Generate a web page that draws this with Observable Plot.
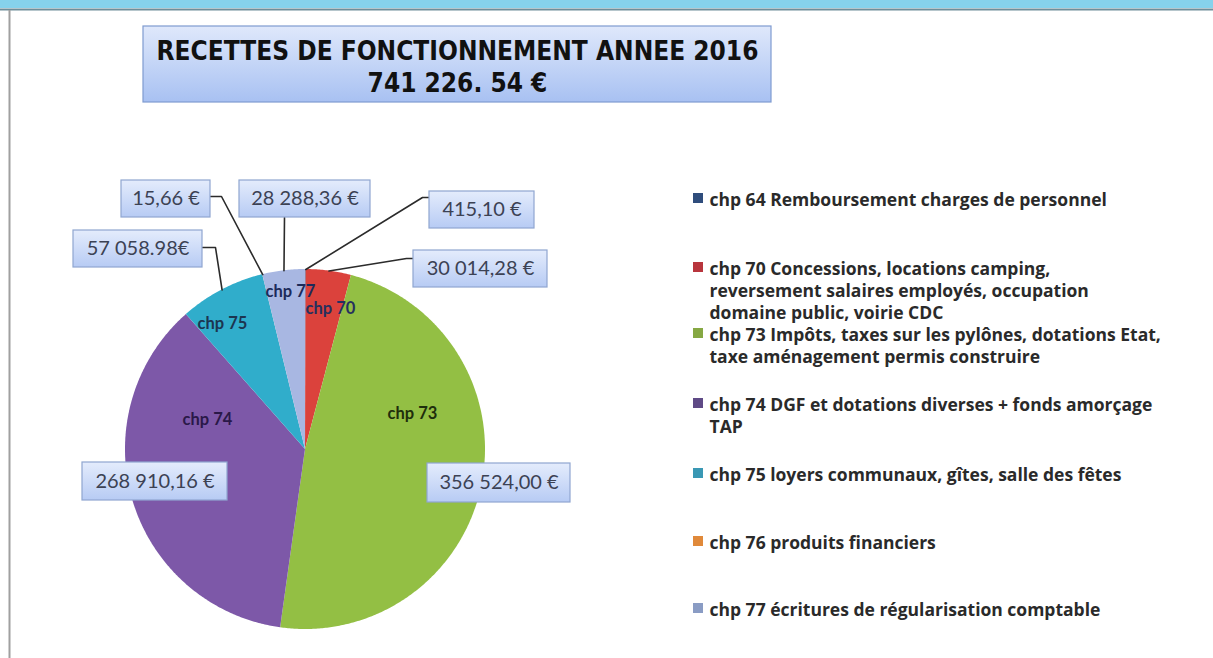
<!DOCTYPE html>
<html><head><meta charset="utf-8">
<script src="https://cdn.jsdelivr.net/npm/d3@7"></script>
<script src="https://cdn.jsdelivr.net/npm/@observablehq/plot@0.6"></script>
<style>body{margin:0;background:#fff;}</style>
</head><body><div id="chart"></div>
<script>
// ---------- data ----------
const titleLines = ["RECETTES DE FONCTIONNEMENT ANNEE 2016", "741 226. 54 €"];
const chapters = ["chp 64", "chp 70", "chp 73", "chp 74", "chp 75", "chp 76", "chp 77"];
const descriptions = [
  "chp 64 Remboursement charges de personnel",
  "chp 70 Concessions, locations camping,\nreversement salaires employés, occupation\ndomaine public, voirie CDC",
  "chp 73 Impôts, taxes sur les pylônes, dotations Etat,\ntaxe aménagement permis construire",
  "chp 74 DGF et dotations diverses + fonds amorçage\nTAP",
  "chp 75 loyers communaux, gîtes, salle des fêtes",
  "chp 76 produits financiers",
  "chp 77 écritures de régularisation comptable"
];
const values = [415.10, 30014.28, 356524.00, 268910.16, 57058.98, 15.66, 28288.36];
const valueLabels = ["415,10 €", "30 014,28 €", "356 524,00 €", "268 910,16 €", "57 058.98€", "15,66 €", "28 288,36 €"];
const sliceNames = ["", "chp 70", "chp 73", "chp 74", "chp 75", "", "chp 77"];

// ---------- styles / layout ----------
const sliceColors = ["#3b5e92", "#db423c", "#93bf44", "#7d58a8", "#30adcb", "#f0923e", "#a8b7e2"];
const legendColors = ["#2f4d7c", "#b8353d", "#86a843", "#5f4a86", "#3a98b4", "#e0893a", "#8a9cc4"];
const sliceTextColors = ["#1c2a5a", "#26305e", "#1f2e0c", "#2a1848", "#1c3550", "#333", "#1c2a5a"];
const W = 1213, H = 658;
const pieLayout = {cx: 305, cy: 449, r: 180};
// value-label boxes: [x1, y1, x2, y2], leader start, leader elbow (null = no leader)
const boxLayout = [
  {b: [429, 191, 534, 228], s: [429, 197], e: [422, 197]},
  {b: [413, 250, 547, 287], s: [413, 258], e: [406, 258]},
  {b: [427, 463, 570, 502], s: null, e: null},
  {b: [82, 462, 227, 500], s: null, e: null},
  {b: [73, 230, 202, 267], s: [202, 247], e: [215, 247]},
  {b: [121, 180, 210, 217], s: [210, 196], e: [221, 196]},
  {b: [239, 180, 370, 217], s: [284, 217], e: [284, 217]}
];
const sliceLabelPos = [null, [330, 308], [412, 413], [207, 419], [222, 323], null, [290, 291]];
const legendY = [198, 267, 333, 403, 473, 541, 608];
const legendSquareX = 693, legendTextX = 709;

// ---------- pie geometry from values ----------
const arcs = d3.pie().sort(null).value(d => d)(values);
const slicePts = [];
arcs.forEach((a, i) => {
  const {cx, cy, r} = pieLayout;
  const n = Math.max(2, Math.ceil((a.endAngle - a.startAngle) / (Math.PI / 360)));
  for (let k = 0; k <= n; k++) {
    const t = a.startAngle + (a.endAngle - a.startAngle) * k / n;
    slicePts.push({key: chapters[i], x: cx + r * Math.sin(t), y: cy - r * Math.cos(t), cx, cy});
  }
});

const leaderPts = [];
arcs.forEach((a, i) => {
  const L = boxLayout[i];
  if (!L.s) return;
  const {cx, cy, r} = pieLayout;
  const m = (a.startAngle + a.endAngle) / 2;
  leaderPts.push({k: i, x: L.s[0], y: L.s[1]});
  leaderPts.push({k: i, x: L.e[0], y: L.e[1]});
  leaderPts.push({k: i, x: cx + r * Math.sin(m), y: cy - r * Math.cos(m)});
});

const boxes = chapters.map((c, i) => {
  const [x1, y1, x2, y2] = boxLayout[i].b;
  return {x1, y1, x2, y2, xc: (x1 + x2) / 2, yc: (y1 + y2) / 2, label: valueLabels[i]};
});
const sliceLabels = chapters.map((c, i) => sliceLabelPos[i] ? {x: sliceLabelPos[i][0], y: sliceLabelPos[i][1], t: sliceNames[i], c: sliceTextColors[i]} : null).filter(d => d);
const legend = chapters.map((c, i) => ({key: c, y: legendY[i], text: descriptions[i], col: legendColors[i]}));

const svg = Plot.plot({
  width: W, height: H,
  margin: 0,
  x: {domain: [0, W], range: [0, W], axis: null},
  y: {domain: [0, H], range: [0, H], axis: null},
  color: {domain: chapters, range: sliceColors},
  style: {background: "white", fontFamily: "Lato, sans-serif", overflow: "visible"},
  marks: [
    // frame of the page
    Plot.rect([{}], {x1: 0, x2: W, y1: 0, y2: 8, fill: "#86d2ec"}),
    Plot.ruleY([9], {x1: 0, x2: W, stroke: "#6f8e9a", strokeWidth: 2}),
    Plot.ruleX([9], {y1: 10, y2: H, stroke: "#a0a0a0", strokeWidth: 2}),
    // title box
    Plot.rect([{}], {x1: 143, x2: 771, y1: 26, y2: 102, fill: "url(#titleGrad)", stroke: "#7f9bd0", strokeWidth: 1.2, ariaLabel: "titlebox"}),
    Plot.text(titleLines.map((t, i) => ({t, i})), {x: 457, y: d => 51 + d.i * 32, text: "t", fontSize: 26, fontWeight: "bold", fill: "#111", fontFamily: "'DejaVu Sans Condensed', sans-serif"}),
    // pie slices (wedges: arc points joined back to the centre)
    Plot.area(slicePts, {x1: "x", y1: "y", x2: "cx", y2: "cy", z: "key", fill: "key", curve: "linear"}),
    // slice names
    Plot.text(sliceLabels, {x: "x", y: "y", text: "t", fill: "c", fontSize: 16.5, fontWeight: "bold"}),
    // leader lines
    Plot.line(leaderPts, {x: "x", y: "y", z: "k", stroke: "#2b2b2b", strokeWidth: 1.6, curve: "linear"}),
    // value boxes
    Plot.rect(boxes, {x1: "x1", x2: "x2", y1: "y1", y2: "y2", fill: "url(#boxGrad)", stroke: "#8fa6d0", strokeWidth: 1.2, ariaLabel: "boxes"}),
    Plot.text(boxes, {x: "xc", y: "yc", text: "label", fontSize: 20, fill: "#3c4254", fontFamily: "Lato, sans-serif"}),
    // legend
    Plot.rect(legend, {x1: legendSquareX, x2: legendSquareX + 10, y1: d => d.y - 5, y2: d => d.y + 5, fill: "col"}),
    Plot.text(legend, {x: legendTextX, y: d => d.y - 8, text: "text", textAnchor: "start", lineAnchor: "top", lineHeight: 1.26, fontSize: 17.5, fontWeight: "bold", fill: "#2a2a2a", fontFamily: "'Open Sans', sans-serif"})
  ]
});

const defs = d3.select(svg).insert("defs", ":first-child");
const tg = defs.append("linearGradient").attr("id", "titleGrad").attr("x1", 0).attr("y1", 0).attr("x2", 0).attr("y2", 1);
tg.append("stop").attr("offset", "0%").attr("stop-color", "#dfe8fb");
tg.append("stop").attr("offset", "100%").attr("stop-color", "#a8c1f2");
const bg = defs.append("linearGradient").attr("id", "boxGrad").attr("x1", 0).attr("y1", 0).attr("x2", 0).attr("y2", 1);
bg.append("stop").attr("offset", "0%").attr("stop-color", "#e4ecfc");
bg.append("stop").attr("offset", "100%").attr("stop-color", "#b7cbf4");
document.getElementById("chart").appendChild(svg);
</script>
</body></html>
